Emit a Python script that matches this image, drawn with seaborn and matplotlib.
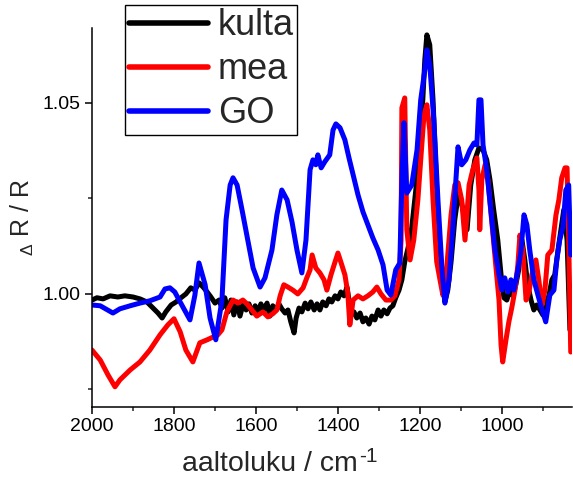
import matplotlib
matplotlib.use("Agg")
import matplotlib.pyplot as plt
import seaborn as sns
import pandas as pd
from matplotlib.ticker import MultipleLocator, FormatStrFormatter

# Wavenumbers (cm^-1) and reflectance change for each sample
kulta_x = [2000, 1988, 1973, 1956, 1937, 1920, 1900, 1883, 1866, 1851, 1839, 1829, 1820,
           1807, 1795, 1783, 1771, 1759, 1749, 1739, 1729, 1719, 1710, 1700, 1690, 1683,
           1676, 1668, 1661, 1654, 1646, 1639, 1632, 1624, 1617, 1610, 1602, 1595, 1588,
           1580, 1573, 1566, 1559, 1551, 1544, 1537, 1529, 1522, 1515, 1507, 1502, 1495,
           1488, 1480, 1473, 1466, 1458, 1451, 1444, 1437, 1429, 1422, 1415, 1407, 1400,
           1393, 1385, 1378, 1373, 1368, 1361, 1354, 1346, 1339, 1332, 1324, 1317, 1310,
           1302, 1295, 1288, 1280, 1273, 1266, 1259, 1251, 1244, 1237, 1229, 1220, 1210,
           1200, 1193, 1188, 1183, 1176, 1168, 1161, 1154, 1146, 1139, 1132, 1124, 1115,
           1105, 1095, 1085, 1076, 1066, 1056, 1046, 1037, 1029, 1020, 1010, 1002, 995,
           988, 980, 973, 966, 959, 951, 944, 937, 929, 922, 915, 907, 900, 893, 885, 878,
           871, 863, 856, 849, 841, 834, 829]
kulta_y = [0.9984, 0.9990, 0.9987, 0.9995, 0.9992, 0.9995, 0.9992, 0.9987, 0.9979, 0.9963,
           0.9950, 0.9937, 0.9953, 0.9971, 0.9979, 0.9990, 1.0000, 1.0016, 1.0010, 1.0029,
           1.0018, 1.0005, 0.9992, 0.9976, 0.9984, 0.9963, 0.9990, 0.9953, 0.9984, 0.9945,
           0.9979, 0.9942, 0.9971, 0.9958, 0.9974, 0.9950, 0.9969, 0.9953, 0.9974, 0.9958,
           0.9976, 0.9942, 0.9969, 0.9958, 0.9974, 0.9961, 0.9950, 0.9958, 0.9927, 0.9898,
           0.9937, 0.9963, 0.9953, 0.9976, 0.9961, 0.9979, 0.9958, 0.9974, 0.9958, 0.9979,
           0.9969, 0.9987, 0.9979, 0.9995, 0.9987, 1.0005, 0.9995, 1.0018, 0.9984, 0.9945,
           0.9953, 0.9937, 0.9950, 0.9927, 0.9937, 0.9921, 0.9942, 0.9932, 0.9958, 0.9942,
           0.9958, 0.9948, 0.9963, 0.9969, 0.9990, 1.0010, 1.0037, 1.0084, 1.0120, 1.0173,
           1.0272, 1.0403, 1.0508, 1.0613, 1.0678, 1.0652, 1.0508, 1.0325, 1.0141, 1.0037,
           0.9979, 1.0010, 1.0084, 1.0194, 1.0272, 1.0220, 1.0168, 1.0285, 1.0351, 1.0382,
           1.0377, 1.0351, 1.0298, 1.0220, 1.0141, 1.0050, 0.9990, 0.9984, 1.0010, 0.9995,
           1.0024, 1.0063, 1.0141, 1.0089, 1.0024, 0.9984, 0.9958, 0.9971, 0.9958, 0.9945,
           0.9971, 0.9997, 1.0037, 1.0050, 1.0115, 1.0168, 1.0220, 1.0141, 0.9906, 0.9906]

mea_x = [2000, 1980, 1961, 1944, 1932, 1907, 1883, 1859, 1834, 1815, 1800, 1785, 1771,
         1754, 1737, 1719, 1705, 1693, 1683, 1671, 1656, 1644, 1632, 1622, 1610, 1598,
         1583, 1571, 1559, 1549, 1541, 1532, 1522, 1510, 1498, 1485, 1476, 1468, 1463,
         1454, 1444, 1434, 1427, 1417, 1407, 1400, 1393, 1383, 1376, 1371, 1363, 1351,
         1339, 1327, 1315, 1305, 1295, 1283, 1271, 1261, 1251, 1246, 1244, 1237, 1232,
         1224, 1215, 1205, 1198, 1190, 1183, 1176, 1168, 1159, 1151, 1144, 1134, 1124,
         1115, 1107, 1098, 1090, 1080, 1071, 1061, 1056, 1054, 1049, 1041, 1034, 1024,
         1015, 1007, 1002, 998, 990, 983, 976, 968, 961, 956, 949, 941, 934, 927, 917,
         910, 902, 895, 888, 878, 868, 861, 854, 846, 841, 837, 832]
mea_y = [0.9853, 0.9827, 0.9788, 0.9757, 0.9775, 0.9801, 0.9822, 0.9853, 0.9893, 0.9919,
         0.9935, 0.9901, 0.9853, 0.9822, 0.9872, 0.9880, 0.9887, 0.9893, 0.9906, 0.9953,
         0.9984, 0.9976, 0.9984, 0.9974, 0.9958, 0.9942, 0.9953, 0.9940, 0.9948, 0.9958,
         0.9995, 1.0024, 1.0018, 1.0010, 1.0000, 1.0016, 1.0042, 1.0063, 1.0102, 1.0068,
         1.0055, 1.0037, 1.0010, 1.0050, 1.0084, 1.0107, 1.0084, 1.0050, 1.0003, 0.9919,
         0.9984, 0.9995, 0.9987, 0.9995, 1.0005, 1.0018, 1.0000, 0.9984, 0.9984, 0.9995,
         1.0037, 1.0141, 1.0487, 1.0513, 1.0168, 1.0089, 1.0141, 1.0246, 1.0351, 1.0469,
         1.0495, 1.0429, 1.0246, 1.0084, 1.0037, 0.9997, 1.0076, 1.0207, 1.0285, 1.0291,
         1.0246, 1.0141, 1.0285, 1.0325, 1.0356, 1.0272, 1.0168, 1.0298, 1.0338, 1.0298,
         1.0181, 1.0076, 0.9984, 0.9866, 0.9822, 0.9880, 0.9927, 0.9963, 1.0010, 1.0076,
         1.0154, 1.0115, 0.9984, 1.0005, 1.0050, 1.0089, 1.0037, 0.9971, 1.0010, 1.0102,
         1.0115, 1.0207, 1.0246, 1.0304, 1.0330, 1.0330, 1.0141, 0.9848]

go_x = [2000, 1980, 1949, 1932, 1907, 1883, 1859, 1834, 1822, 1810, 1798, 1785, 1761,
        1749, 1739, 1724, 1712, 1698, 1683, 1673, 1663, 1656, 1646, 1634, 1620, 1607,
        1590, 1578, 1561, 1549, 1537, 1524, 1512, 1500, 1488, 1478, 1468, 1461, 1454,
        1449, 1441, 1432, 1420, 1412, 1405, 1395, 1383, 1373, 1363, 1351, 1339, 1327,
        1315, 1302, 1290, 1280, 1271, 1259, 1249, 1244, 1239, 1232, 1220, 1207, 1198,
        1188, 1183, 1176, 1166, 1156, 1146, 1139, 1129, 1120, 1107, 1098, 1088, 1078,
        1068, 1061, 1056, 1051, 1046, 1037, 1027, 1017, 1007, 1000, 993, 985, 978, 971,
        961, 954, 946, 939, 932, 922, 912, 902, 893, 883, 873, 866, 859, 851, 844, 837,
        832]
go_y = [0.9971, 0.9969, 0.9950, 0.9961, 0.9969, 0.9976, 0.9982, 0.9992, 1.0013, 1.0016,
        1.0005, 0.9979, 0.9932, 0.9997, 1.0081, 1.0024, 0.9937, 0.9880, 0.9984, 1.0194,
        1.0285, 1.0304, 1.0285, 1.0220, 1.0141, 1.0068, 1.0018, 1.0042, 1.0115, 1.0207,
        1.0272, 1.0246, 1.0188, 1.0115, 1.0055, 1.0141, 1.0325, 1.0351, 1.0338, 1.0364,
        1.0330, 1.0346, 1.0364, 1.0429, 1.0445, 1.0435, 1.0403, 1.0356, 1.0312, 1.0259,
        1.0215, 1.0181, 1.0147, 1.0115, 1.0076, 1.0010, 0.9997, 1.0063, 1.0081, 1.0298,
        1.0448, 1.0264, 1.0285, 1.0377, 1.0508, 1.0586, 1.0639, 1.0600, 1.0455, 1.0246,
        1.0063, 0.9976, 1.0037, 1.0168, 1.0385, 1.0338, 1.0351, 1.0377, 1.0395, 1.0390,
        1.0508, 1.0508, 1.0390, 1.0325, 1.0220, 1.0115, 1.0050, 1.0010, 1.0042, 1.0005,
        1.0037, 1.0010, 1.0063, 1.0107, 1.0207, 1.0181, 1.0115, 1.0037, 0.9997, 0.9958,
        0.9927, 0.9997, 1.0010, 1.0089, 1.0141, 1.0175, 1.0272, 1.0285, 1.0102]

series_names = ["kulta", "mea", "GO"]
series_colors = ["#000000", "#ff0000", "#0000ff"]

sns.set_style("ticks")
plt.rcParams["font.family"] = ["Liberation Sans", "DejaVu Sans"]
plt.rcParams["mathtext.default"] = "regular"

fig = plt.figure(figsize=(5.73, 4.83), dpi=100)
ax = fig.add_axes([0.1606, 0.1573, 0.8376, 0.7847])

for name, xs, ys, col in zip(series_names,
                             [kulta_x, mea_x, go_x],
                             [kulta_y, mea_y, go_y],
                             series_colors):
    df = pd.DataFrame({"aaltoluku": xs, "dR": ys})
    sns.lineplot(data=df, x="aaltoluku", y="dR", sort=False, estimator=None,
                 color=col, linewidth=3.6, label=name, ax=ax)

ax.set_xlim(2000, 829)
ax.set_ylim(0.9704, 1.0696)
ax.xaxis.set_major_locator(MultipleLocator(200))
ax.xaxis.set_minor_locator(MultipleLocator(100))
ax.yaxis.set_major_locator(MultipleLocator(0.05))
ax.yaxis.set_minor_locator(MultipleLocator(0.025))
ax.yaxis.set_major_formatter(FormatStrFormatter("%.2f"))

for side in ["top", "right"]:
    ax.spines[side].set_visible(False)
for side in ["left", "bottom"]:
    ax.spines[side].set_linewidth(1.1)
    ax.spines[side].set_color("black")

ax.tick_params(axis="both", which="major", direction="out", length=5, width=1.1,
               labelsize=14, colors="black", pad=3)
ax.tick_params(axis="both", which="minor", direction="out", length=3, width=1.1)

# x label with a hyphen superscript placed after the unit
ax.set_xlabel("aaltoluku / cm", fontsize=20.5)
ax.xaxis.set_label_coords(0.371, -0.117)
ax.annotate("-1", xy=(1.0, 1.0), xycoords=ax.xaxis.label,
            xytext=(0.5, 3.5), textcoords="offset points",
            ha="left", va="top", fontsize=15, annotation_clip=False)

ax.set_ylabel(r"$_{\Delta}$ R / R", fontsize=18, labelpad=5)

leg = ax.legend(loc="upper left", bbox_to_anchor=(0.218, 0.99),
                bbox_transform=fig.transFigure, fontsize=26, frameon=True,
                fancybox=False, framealpha=1, edgecolor="black",
                handlelength=2.2, handletextpad=0.27, labelspacing=0.25,
                borderpad=0.1, borderaxespad=0)
leg.get_frame().set_linewidth(1.0)
for line in leg.get_lines():
    line.set_linewidth(4.0)

fig.savefig("out.png", dpi=100)
